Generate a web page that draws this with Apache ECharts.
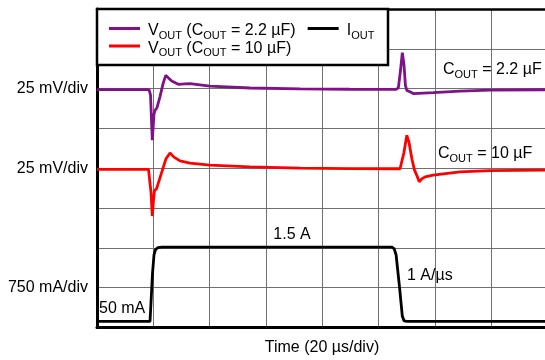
<!DOCTYPE html>
<html><head><meta charset="utf-8">
<script src="https://cdn.jsdelivr.net/npm/echarts@6/dist/echarts.min.js"></script>
<style>html,body{margin:0;padding:0;background:#fff}#c{width:545px;height:360px}</style>
</head><body><div id="c"></div>
<script>
// Time axis (µs), 20 µs/div
const timeTicks = [0, 20, 40, 60, 80, 100, 120, 140, 160, 180, 200];

// VOUT deviation (mV), COUT = 2.2 µF
const tV22 = [0, 18.46, 19.0, 19.63, 20.24, 20.6, 21.3, 22.37, 23.43, 24.39, 25.2, 26.52, 28.87, 31.2, 33.0, 40.1, 54.3, 72.1, 89.8, 106.2, 107.0, 107.8, 108.4, 109.0, 109.5, 110.0, 110.4, 111.1, 112.3, 119.4, 128.9, 139.5, 159.1, 200];
const vV22 = [-0.6, -0.6, -4, -32.4, -16, -13.6, -12, -5, 3, 8.3, 7, 4.8, 2.7, 3.0, 3.1, 1.6, 0.4, -0.2, -0.4, -0.5, 0.5, 12, 22.6, 15, 2, -1.1, -0.3, -2, -3.1, -2.5, -1.6, -1.0, -0.7, -0.5];

// VOUT deviation (mV), COUT = 10 µF
const tV10 = [0, 18.28, 18.64, 19.17, 19.63, 20.06, 20.41, 21.13, 21.66, 23.08, 24.5, 25.92, 27.34, 29.47, 33.0, 40.1, 54.3, 72.1, 89.8, 107.6, 108.2, 109.0, 110.0, 110.8, 111.8, 112.7, 113.5, 114.4, 115.4, 116.5, 119.3, 128.9, 139.5, 159.1, 200];
const vV10 = [-0.75, -0.75, -2, -15, -30, -20, -14, -13, -10, -2, 6, 9.6, 7, 4.6, 3.2, 1.9, 0.9, 0.1, -0.2, -0.3, 0, 10, 20.7, 16, 6, -1, -4.3, -8.5, -6.5, -5.4, -4.3, -2.3, -1.5, -1.2, -1.0];

// IOUT (A)
const tI = [0, 18.82, 19.17, 19.7, 20.24, 20.77, 21.66, 23.08, 104.6, 105.5, 106.2, 107.4, 108.4, 109.0, 110.1, 200];
const vI = [0.05, 0.05, 0.4, 0.95, 1.3, 1.4, 1.44, 1.45, 1.45, 1.42, 1.3, 0.7, 0.15, 0.06, 0.05, 0.05];

const names = ['VOUT (COUT = 2.2 µF)', 'IOUT', 'VOUT (COUT = 10 µF)'];
const richNames = {
  'VOUT (COUT = 2.2 µF)': '{m|V}{s|OUT}{m| (C}{s|OUT}{m| = 2.2 µF)}',
  'IOUT': '{m|I}{s|OUT}',
  'VOUT (COUT = 10 µF)': '{m|V}{s|OUT}{m| (C}{s|OUT}{m| = 10 µF)}'
};

const F = '"Liberation Sans", Arial, Helvetica, sans-serif';
const rich = {
  m: {fontSize: 16, lineHeight: 20, fontFamily: F, color: '#000'},
  s: {fontSize: 11, lineHeight: 12, verticalAlign: 'bottom', fontFamily: F, color: '#000'}
};
const zip = (a, b) => a.map((x, i) => [x, b[i]]);
const PURPLE = '#7e1286', RED = '#ff0000', BLACK = '#000000';

const chart = echarts.init(document.getElementById('c'), null, {renderer: 'canvas'});
chart.setOption({
  animation: false,
  backgroundColor: '#fff',
  grid: {left: 97, top: 9, width: 563.3, height: 318.5, containLabel: false, outerBoundsMode: 'none'},
  xAxis: [{
    type: 'value', position: 'bottom', min: timeTicks[0], max: timeTicks[timeTicks.length - 1], interval: 20,
    axisLine: {show: true, onZero: false, lineStyle: {color: '#000', width: 3}},
    axisTick: {show: false}, axisLabel: {show: false},
    splitLine: {show: true, lineStyle: {color: '#707070', width: 1}}
  }, {
    type: 'value', position: 'top', min: 0, max: 200, interval: 20,
    axisLine: {show: true, onZero: false, lineStyle: {color: '#000', width: 2.5}},
    axisTick: {show: false}, axisLabel: {show: false}, splitLine: {show: false}
  }],
  yAxis: [{
    type: 'value', position: 'left', min: -100, max: 100, interval: 25,
    axisLine: {show: true, onZero: false, lineStyle: {color: '#000', width: 3}},
    axisTick: {show: false},
    axisLabel: {show: true, margin: 9, fontSize: 16, fontFamily: F, color: '#000',
      formatter: v => (v === 0 ? '25 mV/div' : '')},
    splitLine: {show: true, lineStyle: {color: '#707070', width: 1}}
  }, {
    type: 'value', position: 'left', min: -150, max: 50, interval: 25,
    axisLine: {show: false}, axisTick: {show: false}, splitLine: {show: false},
    axisLabel: {show: true, margin: 9, fontSize: 16, fontFamily: F, color: '#000',
      formatter: v => (v === 0 ? '25 mV/div' : '')}
  }, {
    type: 'value', position: 'left', min: -0.066, max: 5.934, interval: 0.75,
    axisLine: {show: false}, axisTick: {show: false}, splitLine: {show: false},
    axisLabel: {show: true, margin: 9, fontSize: 16, fontFamily: F, color: '#000',
      formatter: v => (Math.abs(v - 0.684) < 0.01 ? '750 mA/div' : '')}
  }],
  legend: [{
    data: [names[0], names[1]], left: 109, top: 23, orient: 'horizontal', padding: 0,
    itemWidth: 31, itemHeight: 3, itemGap: 12, icon: 'rect', selectedMode: false, z: 10,
    formatter: n => richNames[n], textStyle: {rich: rich, padding: [5, 0, 0, 3]}
  }, {
    data: [names[2]], left: 109, top: 40.5, orient: 'horizontal', padding: 0,
    itemWidth: 31, itemHeight: 3, icon: 'rect', selectedMode: false, z: 10,
    formatter: n => richNames[n], textStyle: {rich: rich, padding: [5, 0, 0, 3]}
  }],
  graphic: [
    {type: 'rect', z: 5, shape: {x: 97, y: 9, width: 291, height: 56},
     style: {fill: '#fff', stroke: '#000', lineWidth: 2.5}},
    {type: 'text', z: 6, x: 443, y: 70, style: {text: '{m|C}{s|OUT}{m| = 2.2 µF}', rich: rich, verticalAlign: 'middle', align: 'left'}},
    {type: 'text', z: 6, x: 438, y: 154, style: {text: '{m|C}{s|OUT}{m| = 10 µF}', rich: rich, verticalAlign: 'middle', align: 'left'}},
    {type: 'text', z: 6, x: 292, y: 235, style: {text: '1.5 A', font: '16px ' + F, fill: '#000', verticalAlign: 'middle', align: 'center'}},
    {type: 'text', z: 6, x: 407, y: 276, style: {text: '1 A/µs', font: '16px ' + F, fill: '#000', verticalAlign: 'middle', align: 'left'}},
    {type: 'text', z: 6, x: 99, y: 308.5, style: {text: '50 mA', font: '16px ' + F, fill: '#000', verticalAlign: 'middle', align: 'left'}},
    {type: 'text', z: 6, x: 322, y: 348, style: {text: 'Time (20 µs/div)', font: '16px ' + F, fill: '#000', verticalAlign: 'middle', align: 'center'}}
  ],
  series: [{
    name: names[0], type: 'line', xAxisIndex: 0, yAxisIndex: 1, data: zip(tV22, vV22),
    showSymbol: false, symbol: 'none', color: PURPLE, lineStyle: {color: PURPLE, width: 2.8}, z: 3
  }, {
    name: names[1], type: 'line', xAxisIndex: 0, yAxisIndex: 2, data: zip(tI, vI),
    showSymbol: false, symbol: 'none', color: BLACK, lineStyle: {color: BLACK, width: 2.8}, z: 3
  }, {
    name: names[2], type: 'line', xAxisIndex: 0, yAxisIndex: 0, data: zip(tV10, vV10),
    showSymbol: false, symbol: 'none', color: RED, lineStyle: {color: RED, width: 2.8}, z: 3
  }]
});
</script></body></html>
